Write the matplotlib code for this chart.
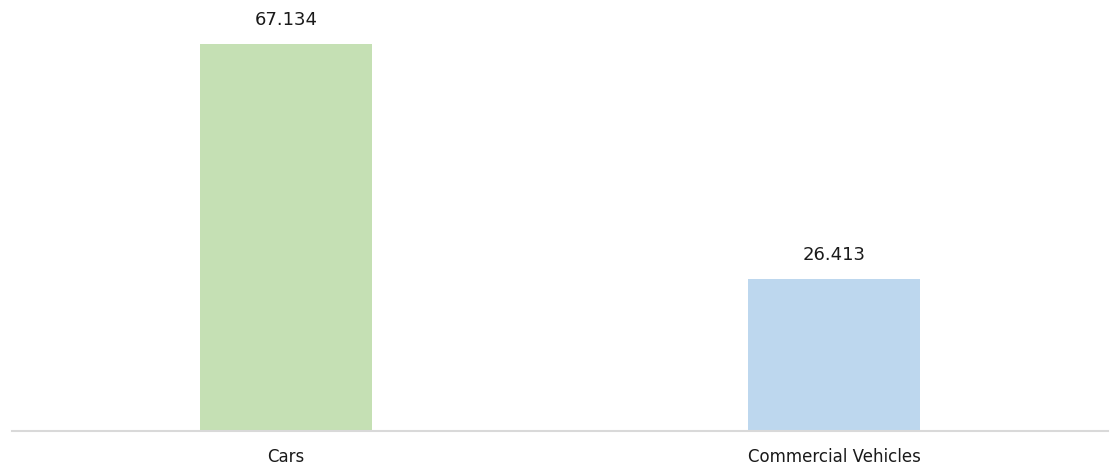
import matplotlib.pyplot as plt

categories = ["Cars", "Commercial Vehicles"]
values = [67.134, 26.413]
value_labels = ["67.134", "26.413"]
colors = ["#C5E0B4", "#BDD7EE"]

fig = plt.figure(figsize=(11.19, 4.67), dpi=100)
ax = fig.add_axes([12 / 1119, 36 / 467, 1096 / 1119, 430 / 467])

x = range(len(categories))
bars = ax.bar(x, values, width=0.314, color=colors)

for bar, lab in zip(bars, value_labels):
    ax.annotate(lab, (bar.get_x() + bar.get_width() / 2, bar.get_height()),
                xytext=(0, 11), textcoords="offset points",
                ha="center", va="bottom", fontsize=13, color="#1a1a1a")

ax.set_xlim(-0.5, 1.5)
ax.set_ylim(0, 430 / 5.762)
ax.set_xticks(list(x))
ax.set_xticklabels(categories, fontsize=12, color="#1a1a1a")
ax.tick_params(axis="x", length=0, pad=12)
ax.set_yticks([])

for side in ["top", "right", "left"]:
    ax.spines[side].set_visible(False)
ax.spines["bottom"].set_color("#D9D9D9")
ax.spines["bottom"].set_linewidth(1.5)

fig.savefig("out.png", dpi=100)
